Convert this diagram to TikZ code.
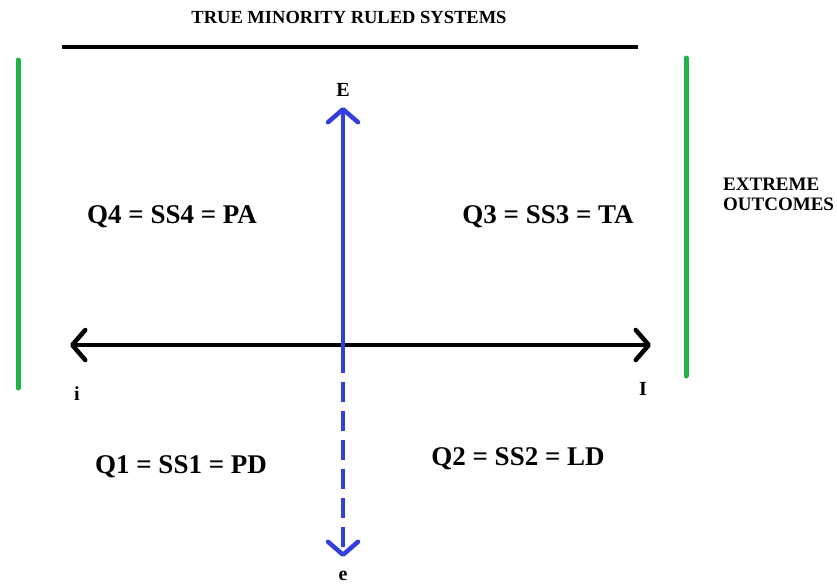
\documentclass[tikz,border=0pt]{standalone}
\usepackage{fontspec}
\setmainfont{Liberation Serif}
\usetikzlibrary{arrows.meta}
\definecolor{axisblue}{RGB}{52,64,220}
\definecolor{bargreen}{RGB}{30,180,70}
\tikzset{
  lbl/.style={font=\fontsize{27}{29}\selectfont\bfseries, inner sep=0pt, anchor=base},
  small/.style={font=\fontsize{18.5}{20}\selectfont\bfseries, inner sep=0pt, anchor=base},
  letter/.style={font=\fontsize{20}{22}\selectfont\bfseries, inner sep=0pt, anchor=base},
  greenbar/.style={bargreen, line width=5pt, line cap=round},
  barb/.tip={Straight Barb[length=13pt, width=30pt, line width=4.5pt, round]},
}
\begin{document}
\begin{tikzpicture}[x=1pt,y=-1pt]
\useasboundingbox (0,0) rectangle (837,584);
\node[small] (title) at (349,23) {TRUE MINORITY RULED SYSTEMS};
\coordinate (tl) at (62,47);
\coordinate (tr) at (638,47);
\draw[line width=3.5pt] (tl) -- (tr);
\coordinate (g1a) at (18,60); \coordinate (g1b) at (18,388);
\coordinate (g2a) at (686,58); \coordinate (g2b) at (686,376);
\draw[greenbar] (g1a) -- (g1b);
\draw[greenbar] (g2a) -- (g2b);
\coordinate (hl) at (70,345);
\coordinate (hr) at (651,345);
\coordinate (c) at (343,345);
\coordinate (vt) at (343,107);
\coordinate (dstart) at (343,373);
\coordinate (vb) at (343,557);
\draw[line width=4.5pt, barb-barb] (hl) -- (hr);
\draw[axisblue, line width=4.5pt, -barb] (c) -- (vt);
\draw[axisblue, line width=4.5pt] (c) -- (dstart);
\draw[axisblue, line width=4.5pt, dash pattern=on 20pt off 9pt, dash phase=-9pt, -barb] (dstart) -- (vb);
\node[letter] (E) at (343,96) {E};
\node[letter] (e) at (343,580) {e};
\node[letter] (i) at (77,400) {i};
\node[letter] (I) at (643,395) {I};
\node[lbl] (q4) at (172,223) {Q4 = SS4 = PA};
\node[lbl] (q3) at (548,223) {Q3 = SS3 = TA};
\node[lbl] (q1) at (181,473) {Q1 = SS1 = PD};
\node[lbl] (q2) at (518,465) {Q2 = SS2 = LD};
\node[font=\fontsize{19}{20}\selectfont\bfseries, inner sep=0pt, anchor=base west, align=left] (ext) at (723,210) {EXTREME\\OUTCOMES};
\end{tikzpicture}
\end{document}
